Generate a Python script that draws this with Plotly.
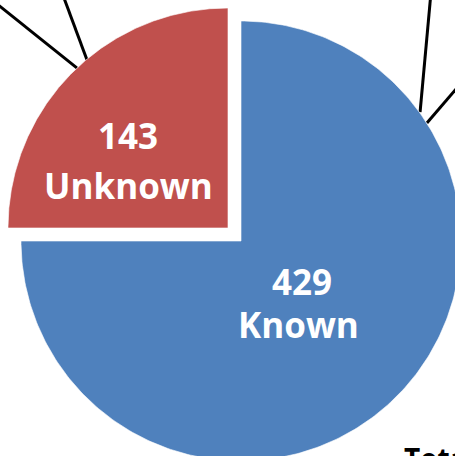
import numpy as np
import plotly.graph_objects as go

# ---- data ----
categories = ["Known", "Unknown"]
values = [429, 143]
colors = ["#4F81BD", "#C0504D"]
pulls = [0.0, 0.0836]
total_label = "Total: 572"

# leader line endpoints (pie-radius units, centre of main pie = 0,0)
leader_lines = [
    ((-0.745, 0.786), (-1.20, 1.150)),
    ((-0.700, 0.823), (-0.84, 1.200)),
    ((0.814, 0.586), (0.870, 1.200)),
    ((0.845, 0.536), (1.050, 0.775)),
]

# ---- geometry (layout) ----
W, H = 455, 456
cx_px, cy_px, r_px = 241, 241, 220
xr = [(0 - cx_px) / r_px, (W - cx_px) / r_px]
yr = [(cy_px - H) / r_px, cy_px / r_px]

def ux(px):
    return (px - cx_px) / r_px

def uy(py):
    return (cy_px - py) / r_px

fig = go.Figure()
total = sum(values)
start = 0.0
for cat, val, col, pull in zip(categories, values, colors, pulls):
    frac = val / total
    a0, a1 = start * 2 * np.pi, (start + frac) * 2 * np.pi
    mid = (a0 + a1) / 2
    ox, oy = pull * np.sin(mid), pull * np.cos(mid)
    th = np.linspace(a0, a1, 300)
    xs = np.concatenate([[ox], ox + np.sin(th), [ox]])
    ys = np.concatenate([[oy], oy + np.cos(th), [oy]])
    fig.add_trace(go.Scatter(x=xs, y=ys, mode="lines", fill="toself",
                             fillcolor=col, line=dict(color="rgba(255,255,255,0.6)", width=1),
                             hoverinfo="skip", showlegend=False))
    start += frac

for (p0, p1) in leader_lines:
    fig.add_shape(type="line", x0=p0[0], y0=p0[1], x1=p1[0], y1=p1[1],
                  xref="x", yref="y", line=dict(color="black", width=3), layer="below")

lab_font = dict(family="Open Sans", size=35, color="white")
# (x centre, y cap-centre) of value line and name line, in pixels
label_pos = {"Known": ((302, 281.5), (298.5, 324)),
             "Unknown": ((127.5, 135.5), (128.5, 185))}
for cat, val in zip(categories, values):
    (vx, vy), (nx, ny) = label_pos[cat]
    fig.add_annotation(x=ux(vx), y=uy(vy), xref="x", yref="y", showarrow=False,
                       text=f"<b>{val}</b>", font=lab_font, yanchor="middle")
    fig.add_annotation(x=ux(nx), y=uy(ny), xref="x", yref="y", showarrow=False,
                       text=f"<b>{cat}</b>", font=lab_font, yanchor="middle")

fig.add_annotation(x=ux(402), y=uy(437), xref="x", yref="y",
                   xanchor="left", yanchor="top", showarrow=False,
                   text=f"<b>{total_label}</b>",
                   font=dict(family="Open Sans", size=28, color="black"))

fig.update_layout(width=W, height=H, margin=dict(l=0, r=0, t=0, b=0),
                  paper_bgcolor="white", plot_bgcolor="white", showlegend=False,
                  xaxis=dict(range=xr, visible=False, fixedrange=True),
                  yaxis=dict(range=yr, visible=False, fixedrange=True))
fig.write_html("out.html", config={"displayModeBar": False},
               post_script="document.body.style.margin='0';document.body.style.overflow='hidden';")
